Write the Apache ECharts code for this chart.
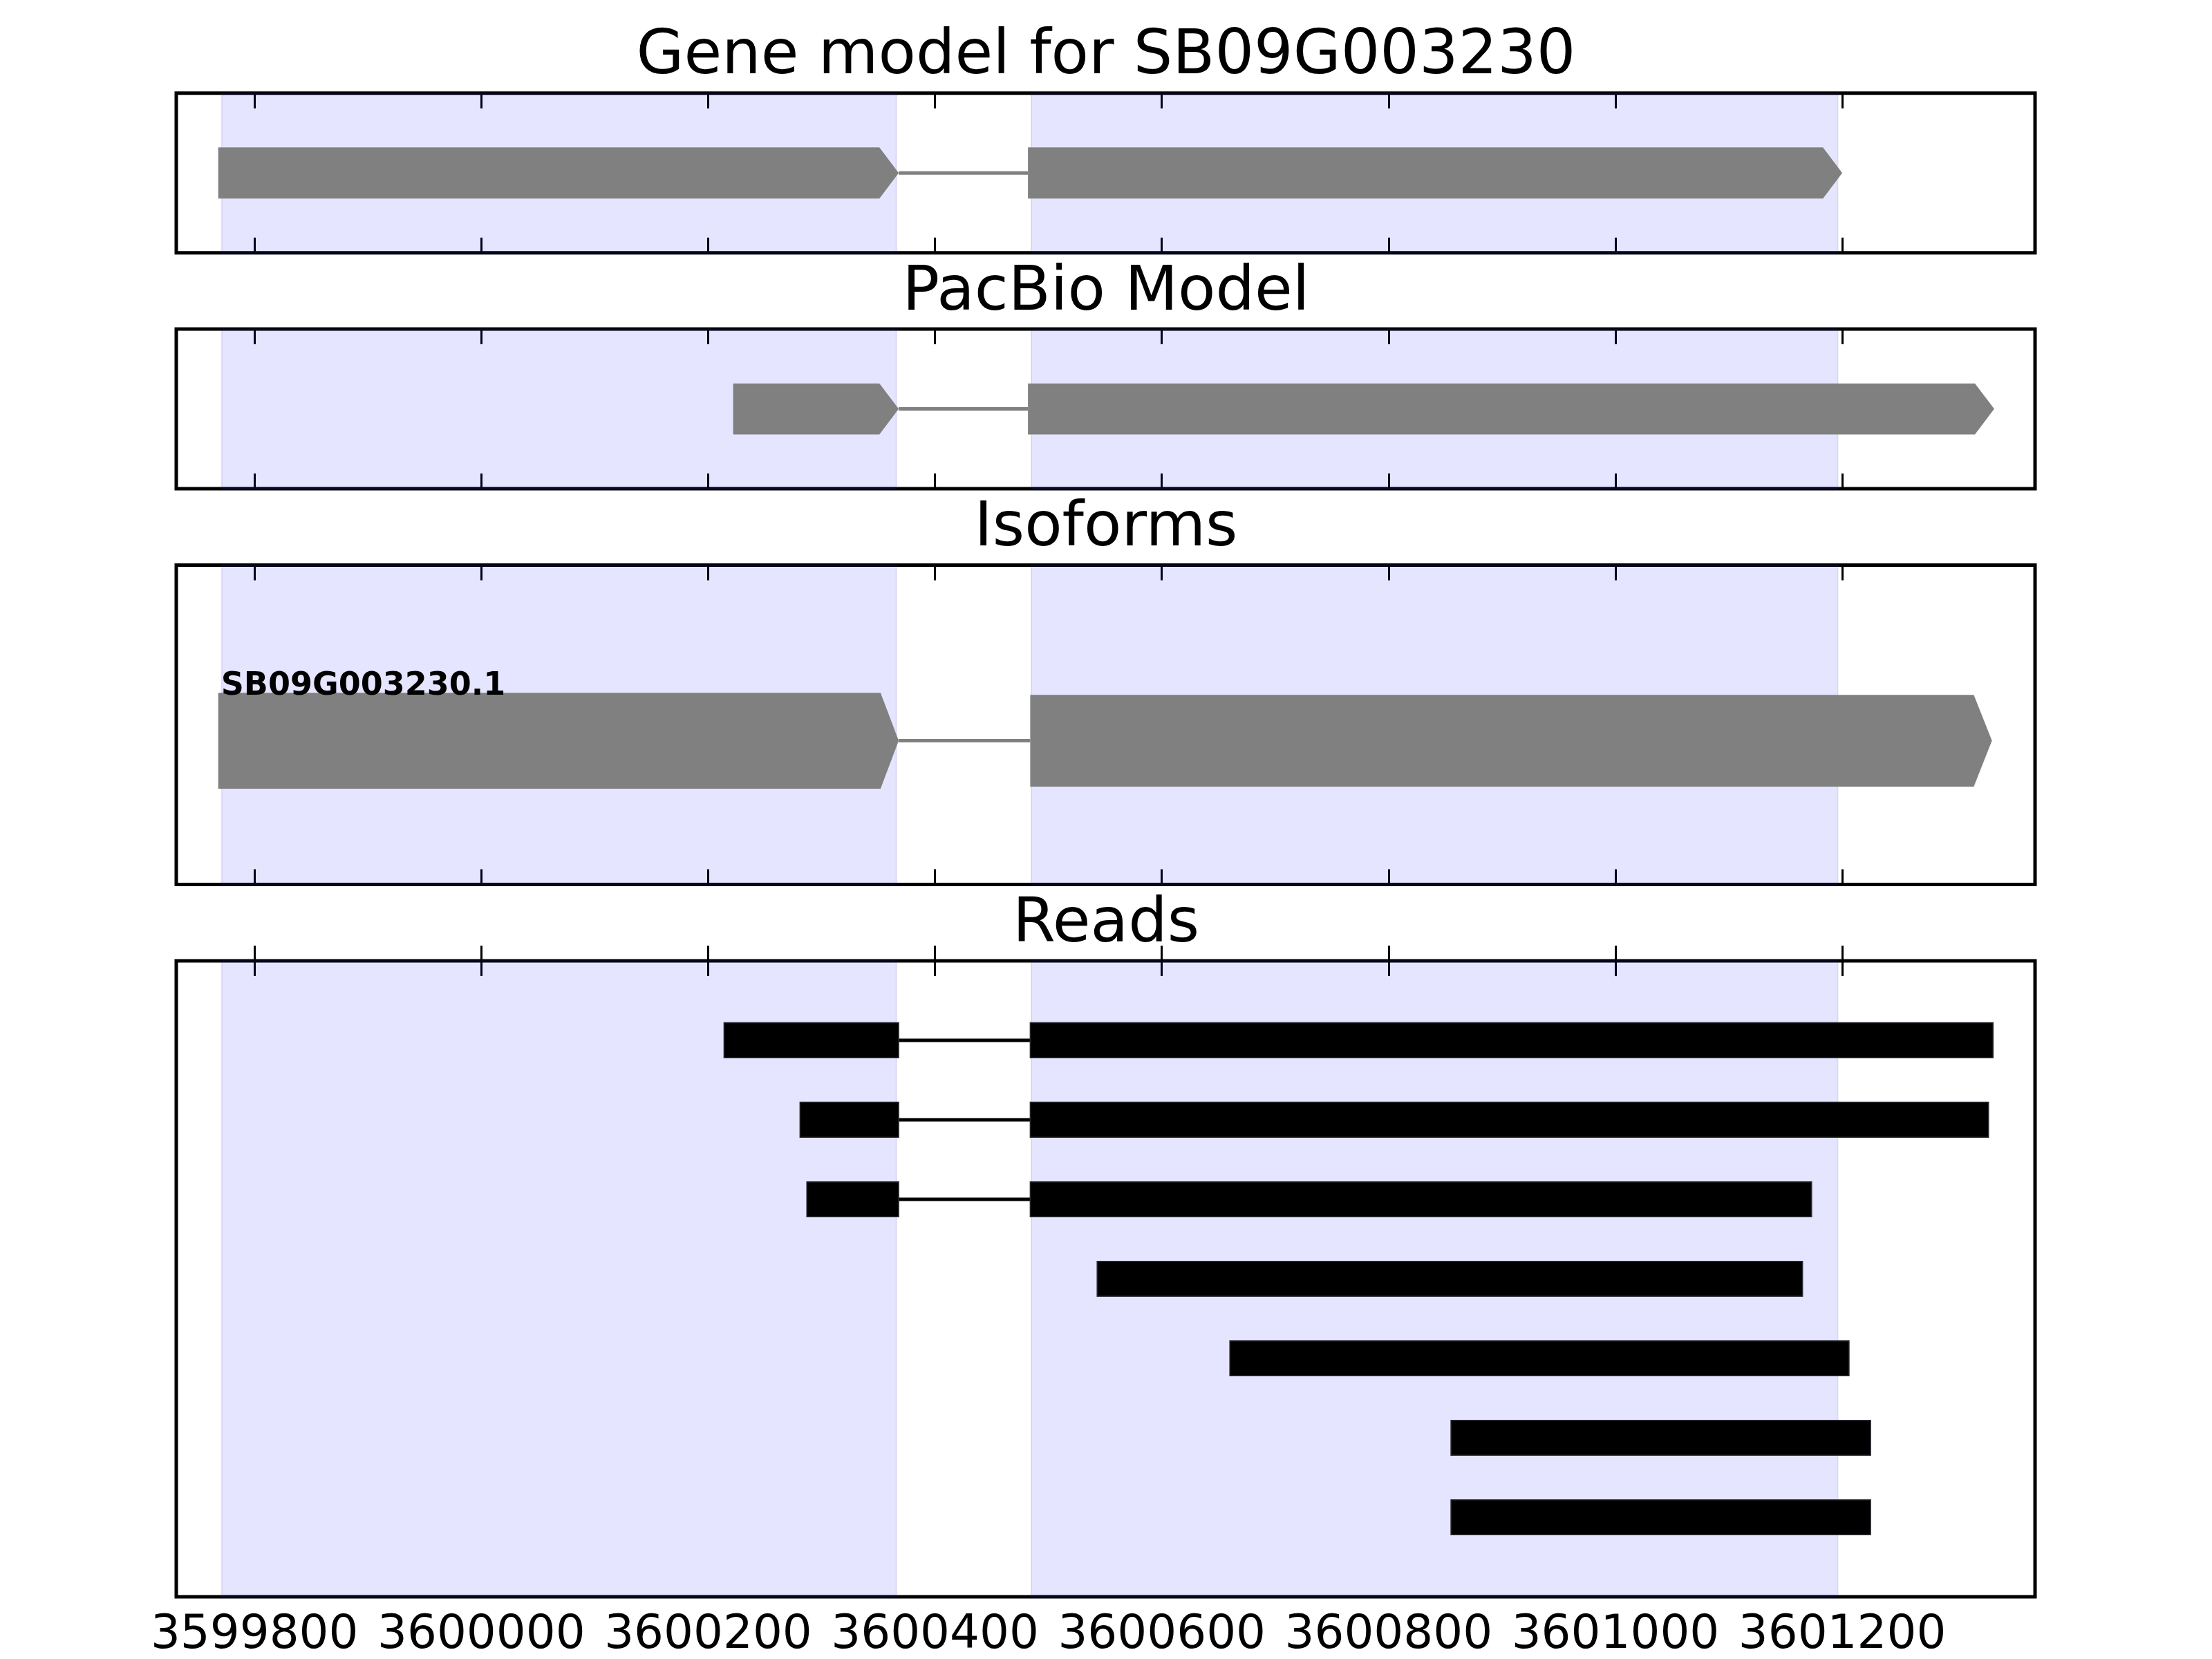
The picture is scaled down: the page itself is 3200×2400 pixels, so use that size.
<!DOCTYPE html>
<html><head><meta charset="utf-8">
<script src="https://cdn.jsdelivr.net/npm/echarts@6/dist/echarts.min.js"></script>
<style>html,body{margin:0;padding:0;background:#fff}#c{width:3200px;height:2400px}</style>
</head><body><div id="c"></div>
<script>
// ---------------- data ----------------
const xMin = 3599731;
const xMax = 3601370;
const tickValues = [3599800, 3600000, 3600200, 3600400, 3600600, 3600800, 3601000, 3601200];
const panelTitles = ['Gene model for SB09G003230', 'PacBio Model', 'Isoforms', 'Reads'];
const exonRegions = [[3599771, 3600366], [3600485, 3601196]];
const geneModelExons = [[3599768, 3600368], [3600482, 3601200]];
const pacbioExons = [[3600222, 3600368], [3600482, 3601334]];
const isoformNames = ['SB09G003230.1'];
const isoformExons = [[[3599768, 3600368], [3600484, 3601332]]];
const readBlocks = [
  [[3600214, 3600368], [3600484, 3601333]],
  [[3600281, 3600368], [3600484, 3601329]],
  [[3600287, 3600368], [3600484, 3601173]],
  [[3600543, 3601165]],
  [[3600660, 3601206]],
  [[3600855, 3601225]],
  [[3600855, 3601225]]
];
const readRows = [1, 2, 3, 4, 5, 6, 7];

// ---------------- layout / style ----------------
const LEFT = 255, RIGHT = 256;
const unitH = 231, gap = 110.4, top0 = 134.7;
const units = [1, 1, 2, 4];
const tops = []; const heights = [];
{ let y = top0; units.forEach(u => { tops.push(y); heights.push(u * unitH); y += u * unitH + gap; }); }
const FONT = 'DejaVu Sans';
const GRAY = '#808080';
const SHADE = 'rgba(0,0,255,0.1)';

function shadeSeries(gi, yMinV) {
  return {
    type: 'custom', xAxisIndex: gi * 2, yAxisIndex: gi, z: 1, silent: true,
    data: exonRegions.map(r => [r[0], r[1]]),
    encode: { x: [0, 1] },
    renderItem: function (params, api) {
      const cs = params.coordSys;
      const x0 = api.coord([api.value(0), yMinV])[0];
      const x1 = api.coord([api.value(1), yMinV])[0];
      return { type: 'rect', shape: { x: x0, y: cs.y, width: x1 - x0, height: cs.height },
        style: { fill: SHADE, stroke: 'rgba(60,60,160,0.12)', lineWidth: 2 } };
    }
  };
}

function transcriptSeries(gi, transcripts, rows, opt) {
  return {
    type: 'custom', xAxisIndex: gi * 2, yAxisIndex: gi, z: 3, silent: true, clip: false,
    data: transcripts.map((t, i) => [t[0][0], t[t.length - 1][1], rows[i]]),
    encode: { x: [0, 1], y: 2 },
    renderItem: function (params, api) {
      const t = transcripts[params.dataIndex];
      const row = api.value(2);
      const yc = api.coord([xMin, row])[1];
      const children = [];
      // introns
      for (let k = 0; k < t.length - 1; k++) {
        const a = api.coord([t[k][1], row])[0];
        const b = api.coord([t[k + 1][0], row])[0];
        children.push({ type: 'line', shape: { x1: a, y1: yc, x2: b, y2: yc },
          style: { stroke: opt.lineColor, lineWidth: opt.lineWidth } });
      }
      t.forEach((ex, k) => {
        const x0 = api.coord([ex[0], row])[0];
        const x1 = api.coord([ex[1], row])[0];
        const hh = Math.abs(api.size([0, (opt.heights ? opt.heights[k] : opt.h)])[1]) / 2;
        if (opt.arrow) {
          const head = Math.min(api.size([opt.head, 0])[0], x1 - x0);
          children.push({ type: 'polygon', shape: { points: [
            [x0, yc - hh], [x1 - head, yc - hh], [x1, yc], [x1 - head, yc + hh], [x0, yc + hh]] },
            style: { fill: opt.color, stroke: opt.stroke || null, lineWidth: 1 } });
        } else {
          children.push({ type: 'rect', shape: { x: x0, y: yc - hh, width: x1 - x0, height: 2 * hh },
            style: { fill: opt.color, stroke: opt.stroke || null, lineWidth: 1.5 } });
        }
      });
      if (opt.labels) {
        const xl = api.coord([t[0][0], row])[0] + 4;
        const hh0 = Math.abs(api.size([0, (opt.heights ? opt.heights[0] : opt.h)])[1]) / 2;
        children.push({ type: 'text', x: xl, y: yc - hh0 - 9,
          style: { text: opt.labels[params.dataIndex], fontFamily: FONT, fontSize: 46, fontWeight: 'bold',
            fill: '#000', align: 'left', verticalAlign: 'middle' } });
      }
      return { type: 'group', children: children };
    }
  };
}

const grids = [], xAxes = [], yAxes = [], series = [], graphics = [];
const yRanges = [[0, 1], [0, 1], [0, 1], [0, 8]];
for (let gi = 0; gi < 4; gi++) {
  grids.push({ left: LEFT, right: RIGHT, top: tops[gi], height: heights[gi], show: true,
    borderColor: '#000', borderWidth: 5, backgroundColor: 'transparent', containLabel: false });
  ['bottom', 'top'].forEach(pos => {
    xAxes.push({
      gridIndex: gi, type: 'value', min: xMin, max: xMax, position: pos,
      axisLine: { show: false }, splitLine: { show: false },
      axisTick: { show: true, inside: true, length: 22, lineStyle: { color: '#000', width: 3 }, customValues: tickValues },
      axisLabel: { show: gi === 3 && pos === 'bottom', customValues: tickValues, margin: 22,
        fontSize: 67.5, fontFamily: FONT, color: '#000', formatter: v => String(v) }
    });
  });
  yAxes.push({ gridIndex: gi, type: 'value', min: yRanges[gi][0], max: yRanges[gi][1], inverse: gi === 3, show: false,
    splitLine: { show: false } });
  series.push(shadeSeries(gi, yRanges[gi][0]));
  graphics.push({ type: 'text', x: 1600, y: tops[gi] - 51.5,
    style: { text: panelTitles[gi], fontFamily: FONT, fontSize: 89, fill: '#000', align: 'center', verticalAlign: 'middle' } });
}

series.push(transcriptSeries(0, [geneModelExons], [0.5], { arrow: true, h: 0.32, head: 17, color: GRAY, lineColor: GRAY, lineWidth: 5 }));
series.push(transcriptSeries(1, [pacbioExons], [0.5], { arrow: true, h: 0.32, head: 17, color: GRAY, lineColor: GRAY, lineWidth: 5 }));
series.push(transcriptSeries(2, isoformExons, [0.45], { arrow: true, heights: [0.30, 0.287], head: 16, color: GRAY, lineColor: GRAY, lineWidth: 5, labels: isoformNames }));
series.push(transcriptSeries(3, readBlocks, readRows, { arrow: false, h: 0.44, color: '#000', stroke: '#2a2a33', lineColor: '#000', lineWidth: 5 }));

const chart = echarts.init(document.getElementById('c'), null, { renderer: 'canvas' });
chart.setOption({
  animation: false,
  backgroundColor: '#fff',
  grid: grids, xAxis: xAxes, yAxis: yAxes, series: series, graphic: graphics
});
</script></body></html>
